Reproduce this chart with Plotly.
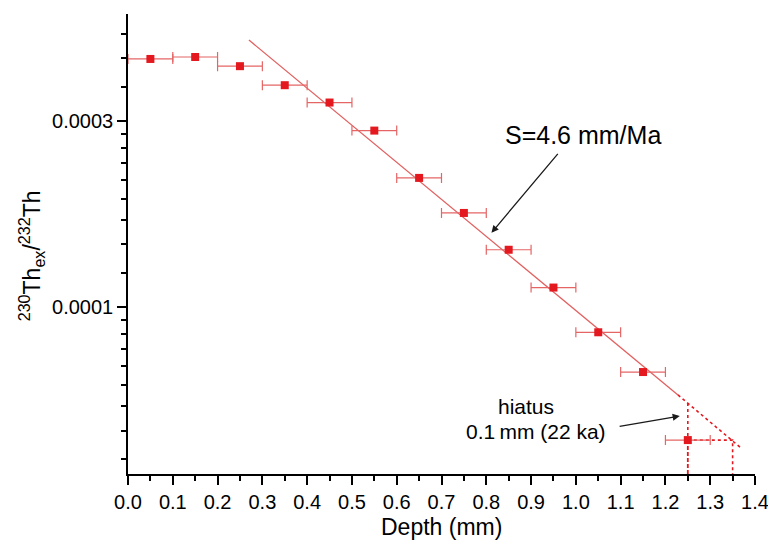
import plotly.graph_objects as go
import math

# ---- data ----
depth = [0.05, 0.15, 0.25, 0.35, 0.45, 0.55, 0.65, 0.75, 0.85, 0.95, 1.05, 1.15, 1.25]
ratio = [4.32e-4, 4.37e-4, 4.14e-4, 3.70e-4, 3.34e-4, 2.83e-4, 2.14e-4,
         1.74e-4, 1.40e-4, 1.12e-4, 8.6e-5, 6.8e-5, 4.55e-5]
depth_err = [0.05] * len(depth)

fit_x = [0.27, 1.228]
fit_y = [4.83e-4, 5.94e-5]
extrap_x = [1.228, 1.37]
extrap_y = [5.94e-5, 4.33e-5]

hiatus_start = 1.25
hiatus_end = 1.35
y_axis_min = 3.724e-5
fit_at_hiatus_start = 5.66e-5

major_yticks = [1e-4, 3e-4]
major_ylabels = ["0.0001", "0.0003"]

RED = "#E3191F"
ERR = "#E56565"
LINE = "#E26060"
FONT = "Liberation Sans, Arial, Helvetica, sans-serif"

# linear minor ticks between log-spaced majors (factor 3 steps)
minor_y = []
for lo in [1e-4 / 3, 1e-4, 3e-4]:
    hi = lo * 3
    for k in range(1, 9):
        minor_y.append(lo + k * (hi - lo) / 9)

fig = go.Figure()

fig.add_trace(go.Scatter(
    x=fit_x, y=fit_y, mode="lines",
    line=dict(color=LINE, width=1.3), showlegend=False))
fig.add_trace(go.Scatter(
    x=extrap_x, y=extrap_y, mode="lines",
    line=dict(color=RED, width=1.6, dash="dot"), showlegend=False))
fig.add_trace(go.Scatter(
    x=[hiatus_start, hiatus_end, hiatus_end],
    y=[ratio[-1], ratio[-1], y_axis_min], mode="lines",
    line=dict(color=RED, width=1.6, dash="dot"), showlegend=False))
fig.add_trace(go.Scatter(
    x=[hiatus_start, hiatus_start], y=[fit_at_hiatus_start, ratio[-1]], mode="lines",
    line=dict(color=RED, width=1.6, dash="dot"), showlegend=False))
fig.add_trace(go.Scatter(
    x=[hiatus_start, hiatus_start], y=[ratio[-1], y_axis_min], mode="lines",
    line=dict(color=RED, width=1.8, dash="4px,2px"), showlegend=False))

fig.add_trace(go.Scatter(
    x=depth, y=ratio, mode="markers",
    marker=dict(symbol="square", size=8, color=RED),
    error_x=dict(type="data", array=depth_err, color=ERR, thickness=1.2, width=5),
    showlegend=False))

ylo = math.log10(y_axis_min)
yhi = -3.2492

fig.update_layout(
    width=768, height=544,
    margin=dict(l=128, r=13, t=14, b=70),
    paper_bgcolor="white", plot_bgcolor="white",
    font=dict(family=FONT, color="black", size=20),
    xaxis=dict(
        range=[0, 1.4], dtick=0.1, tick0=0, tickformat=".1f",
        automargin=False, ticklabeloverflow="allow",
        showline=True, linecolor="black", linewidth=1.6,
        ticks="outside", ticklen=9, tickwidth=1.6, tickcolor="black",
        showgrid=False, zeroline=False,
        tickfont=dict(size=20, family=FONT),
        minor=dict(dtick=0.05, tick0=0, ticks="outside", ticklen=5,
                   tickwidth=1.6, tickcolor="black", showgrid=False),
    ),
    yaxis=dict(
        type="log", range=[ylo, yhi],
        automargin=False, ticklabeloverflow="allow",
        tickmode="array", tickvals=major_yticks, ticktext=major_ylabels,
        showline=True, linecolor="black", linewidth=1.6,
        ticks="outside", ticklen=9, tickwidth=1.6, tickcolor="black",
        showgrid=False, zeroline=False,
        tickfont=dict(size=20, family=FONT),
        minor=dict(tickmode="array", tickvals=minor_y, ticks="outside", ticklen=5,
                   tickwidth=1.6, tickcolor="black", showgrid=False),
    ),
)

# axis titles as annotations
fig.add_annotation(
    xref="paper", yref="paper", x=-0.155, y=0.475,
    text="<sup>230</sup>Th<sub>ex</sub>/<sup>232</sup>Th",
    textangle=-90, showarrow=False, font=dict(size=23, family=FONT),
    xanchor="center", yanchor="middle")
fig.add_annotation(
    xref="paper", yref="paper", x=0.5, y=-0.115,
    text="Depth (mm)", showarrow=False, font=dict(size=23, family=FONT),
    xanchor="center", yanchor="middle")

# slope annotation with arrow
fig.add_annotation(
    x=0.8116, y=-3.8102, ax=0.9625, ay=-3.6039,
    xref="x", yref="y", axref="x", ayref="y",
    showarrow=True, arrowhead=2, arrowsize=1.1, arrowwidth=1.3, arrowcolor="#1a1a1a",
    text="")
fig.add_annotation(
    x=1.0156, y=-3.5596, xref="x", yref="y",
    text="S=4.6 mm/Ma", showarrow=False, font=dict(size=25, family=FONT))

# hiatus annotation with arrow
fig.add_annotation(
    x=1.2321, y=-4.2803, ax=1.0944, ay=-4.3077,
    xref="x", yref="y", axref="x", ayref="y",
    showarrow=True, arrowhead=2, arrowsize=1.1, arrowwidth=1.3, arrowcolor="#1a1a1a",
    text="")
fig.add_annotation(
    x=0.888, y=-4.257, xref="x", yref="y",
    text="hiatus", showarrow=False, font=dict(size=21, family=FONT))
fig.add_annotation(
    x=1.0714, y=-4.3212, xref="x", yref="y", xanchor="right",
    text="0.1\u2009mm (22 ka)", showarrow=False, font=dict(size=21, family=FONT))

fig.write_html(
    "out.html",
    config={"displayModeBar": False},
    post_script="document.body.style.margin='0';document.body.style.padding='0';"
                "document.documentElement.style.overflow='hidden';",
)
